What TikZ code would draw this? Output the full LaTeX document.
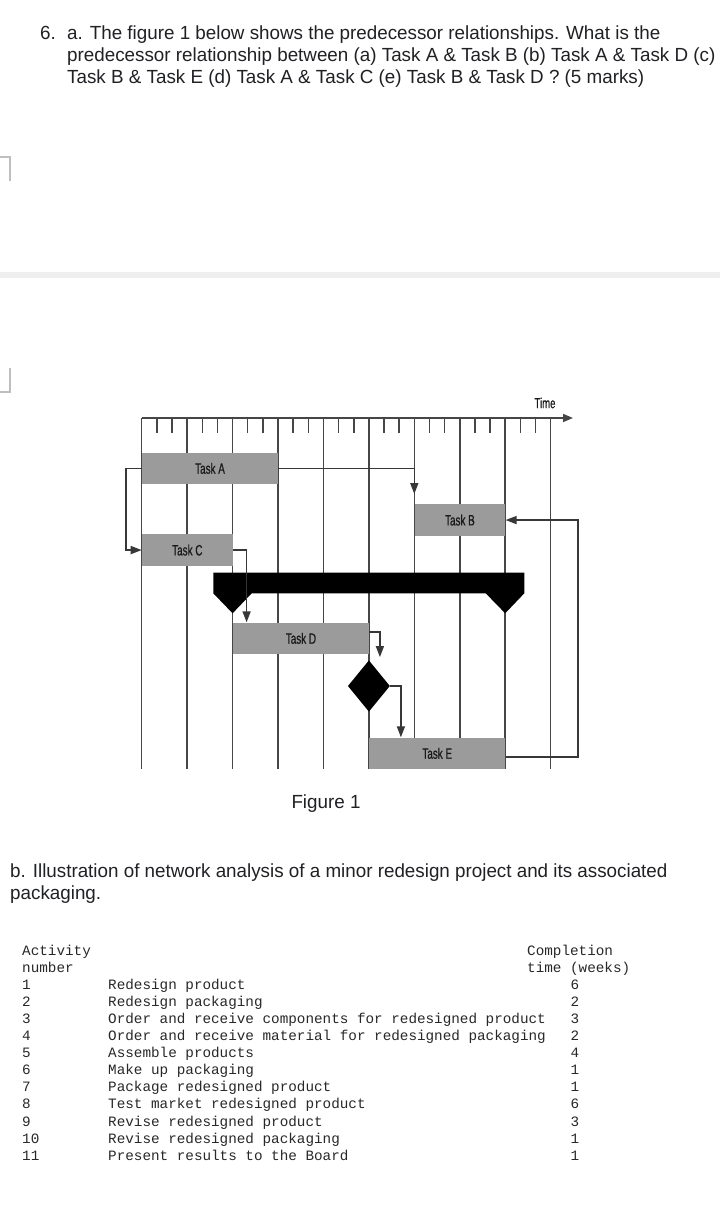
\documentclass[tikz,border=0pt]{standalone}
\usepackage{fontspec}
\setmainfont{Liberation Sans}
\newfontfamily\bodyfont[FakeStretch=0.99]{Liberation Sans}
\newfontfamily\chartfont[FakeStretch=0.66,FakeBold=0.6]{Liberation Sans}
\newfontfamily\tablefont{Liberation Mono}
\usetikzlibrary{arrows.meta,shapes.geometric}
\definecolor{txt}{RGB}{32,33,36}
\definecolor{gridgray}{RGB}{70,70,70}
\definecolor{conngray}{RGB}{55,55,55}
\definecolor{taskgray}{RGB}{155,155,155}
\definecolor{bandgray}{RGB}{239,239,239}
\definecolor{markgray}{RGB}{190,190,190}
\definecolor{tabtxt}{RGB}{40,40,40}
\tikzset{
  bodytext/.style={anchor=base west, inner sep=0pt, text=txt, font=\bodyfont\fontsize{19}{22}\selectfont},
  tabtext/.style={anchor=base west, inner sep=0pt, text=tabtxt, font=\tablefont\fontsize{14.3}{17}\selectfont},
  gridline/.style={draw=gridgray, line width=1.5pt},
  taskbar/.style={fill=taskgray, draw=none, inner sep=0pt, anchor=north west, minimum height=31.7pt, text=black!90, font=\chartfont\fontsize{15}{17}\selectfont},
  conn/.style={draw=conngray, line width=1.5pt, -{Triangle[length=11pt,width=8pt]}},
  markline/.style={draw=markgray, line width=1.2pt}
}
\begin{document}
\begin{tikzpicture}[x=1pt,y=-1pt]
\useasboundingbox (0,0) rectangle (720,1208);
\fill[white] (0,0) rectangle (720,1208);

% question text
\node[bodytext] (q6) at (40,39) {6.};
\node[bodytext] (l1) at (67,39) {a. The figure 1 below shows the predecessor relationships. What is the};
\node[bodytext] (l2) at (67,61) {predecessor relationship between (a) Task A \& Task B (b) Task A \& Task D (c)};
\node[bodytext] (l3) at (67,83) {Task B \& Task E (d) Task A \& Task C (e) Task B \& Task D ? (5 marks)};

% page marks and band
\draw[markline] (0,157) -- (10,157) -- (10,181);
\draw[markline] (10,368) -- (10,392) -- (0,392);
\fill[bandgray] (0,272) rectangle (720,278);

% grid
\foreach \i in {0,...,9} \draw[gridline] ({141.7+45.44*\i},418) -- ({141.7+45.44*\i},769);
\foreach \i in {0,...,8} \foreach \j in {1,2} \draw[gridline] ({141.7+45.44*\i+15.147*\j},418) -- ++(0,15);
\coordinate (t0) at (141.7,418);
\coordinate (t1) at (573,418);
\draw[gridline,-{Triangle[length=10pt,width=8pt]}] (t0) -- (t1);
\node[inner sep=0pt, text=black!90, font=\chartfont\fontsize{14.5}{16}\selectfont] (time) at (545,403) {Time};

% task bars
\node[taskbar, minimum width=136.3pt] (A) at (141.7,452.3) {Task A};
\node[taskbar, minimum width=90.9pt] (B) at (414.3,504) {Task B};
\node[taskbar, minimum width=90.9pt] (C) at (141.7,534) {Task C};
\node[taskbar, minimum width=136.3pt] (D) at (232.6,622.3) {Task D};
\node[taskbar, minimum width=136.3pt] (E) at (368.9,737.3) {Task E};

% summary bar
\fill[black] (213.3,572.7) -- (524.3,572.7) -- (524.3,593.3) -- (505.2,613.3) -- (485.7,593.3)
  -- (251.7,593.3) -- (232.6,613.3) -- (213.3,593.3) -- cycle;

% milestone
\node[diamond, fill=black, inner sep=0pt, minimum width=42pt, minimum height=51.4pt] (M) at (368.9,686) {};

% connectors
\draw[conn, shorten >=10pt] (A.east) -| (B.north west);
\draw[conn] (A.west) -- ++(-15.7,0) |- (C.west);
\draw[conn] (C.east) -| ([xshift=14pt]D.north west);
\draw[conn, shorten >=3pt] ([yshift=6.5pt]D.east) -| ([xshift=11pt]M.north);
\draw[conn] (M.east) -| ([xshift=32pt]E.north west);
\draw[conn] ([yshift=-3.5pt]E.east) -- ++(72.3,0) |- (B.east);

% captions
\node[anchor=base, inner sep=0pt, text=txt, font=\bodyfont\fontsize{19}{22}\selectfont] (fig) at (326,808) {Figure 1};
\node[bodytext] (b1) at (10,877) {b. Illustration of network analysis of a minor redesign project and its associated};
\node[bodytext] (b2) at (10,899) {packaging.};

% table
\foreach \txt [count=\k from 0] in {Activity,number,1,2,3,4,5,6,7,8,9,10,11}
  \node[tabtext] (n\k) at (22,{955+17.1*\k}) {\txt};
\node[tabtext] (h1) at (527,955) {Completion};
\node[tabtext] (h2) at (527,972.1) {time (weeks)};
\foreach \txt [count=\k from 2] in {Redesign product,Redesign packaging,Order and receive components for redesigned product,Order and receive material for redesigned packaging,Assemble products,Make up packaging,Package redesigned product,Test market redesigned product,Revise redesigned product,Revise redesigned packaging,Present results to the Board}
  \node[tabtext] (d\k) at (108,{955+17.1*\k}) {\txt};
\foreach \txt [count=\k from 2] in {6,2,3,2,4,1,1,6,3,1,1}
  \node[tabtext] (v\k) at (570.5,{955+17.1*\k}) {\txt};
\end{tikzpicture}
\end{document}
